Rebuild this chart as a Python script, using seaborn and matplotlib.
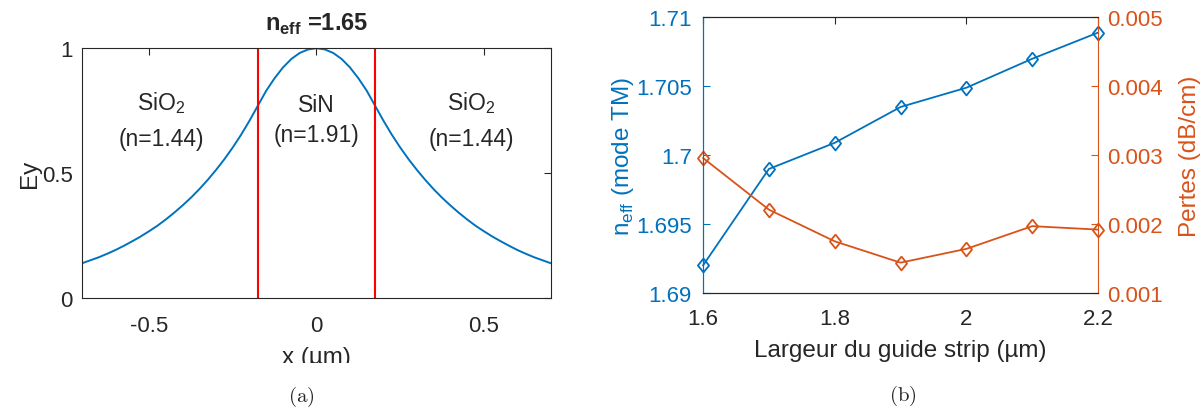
import numpy as np
import pandas as pd
import matplotlib
matplotlib.use('Agg')
import matplotlib.pyplot as plt
import seaborn as sns

# profil du mode (a)
x_um = [-0.7, -0.675, -0.65, -0.625, -0.6, -0.575, -0.55, -0.525, -0.5, -0.475,
        -0.45, -0.425, -0.4, -0.375, -0.35, -0.325, -0.3, -0.275, -0.25, -0.225,
        -0.2, -0.175, -0.15, -0.125, -0.1, -0.075, -0.05, -0.025, 0.0,
        0.025, 0.05, 0.075, 0.1, 0.125, 0.15, 0.175, 0.2, 0.225, 0.25,
        0.275, 0.3, 0.325, 0.35, 0.375, 0.4, 0.425, 0.45, 0.475, 0.5,
        0.525, 0.55, 0.575, 0.6, 0.625, 0.65, 0.675, 0.7]
ey = [0.140, 0.152, 0.164, 0.178, 0.193, 0.210, 0.228, 0.247, 0.268, 0.290,
      0.315, 0.342, 0.371, 0.402, 0.436, 0.473, 0.513, 0.556, 0.603, 0.654,
      0.710, 0.770, 0.830, 0.880, 0.923, 0.957, 0.981, 0.995, 1.000,
      0.995, 0.981, 0.957, 0.923, 0.880, 0.830, 0.770, 0.710, 0.654, 0.603,
      0.556, 0.513, 0.473, 0.436, 0.402, 0.371, 0.342, 0.315, 0.290, 0.268,
      0.247, 0.228, 0.210, 0.193, 0.178, 0.164, 0.152, 0.140]
core_edges = [-0.175, 0.175]

# indice effectif et pertes (b)
largeur = [1.6, 1.7, 1.8, 1.9, 2.0, 2.1, 2.2]
n_eff = [1.6920, 1.6990, 1.7009, 1.7035, 1.7049, 1.7070, 1.7089]
pertes = [0.00296, 0.00221, 0.00175, 0.00144, 0.00164, 0.00197, 0.00192]

blue = '#0072BD'
orange = '#D95319'
dark = '#262626'

sns.set_theme(style="white")
plt.rcParams['font.family'] = ['Liberation Sans', 'DejaVu Sans']
plt.rcParams['mathtext.fontset'] = 'custom'
plt.rcParams['mathtext.rm'] = 'Liberation Sans'
plt.rcParams['mathtext.bf'] = 'Liberation Sans:bold'
plt.rcParams['axes.edgecolor'] = dark
plt.rcParams['xtick.direction'] = 'in'
plt.rcParams['ytick.direction'] = 'in'

fig = plt.figure(figsize=(12.04, 4.10), dpi=100)

# ---- (a)
ax1 = fig.add_axes([0.0681, 0.270, 0.3895, 0.610])
prof = pd.DataFrame({'x': x_um, 'Ey': ey})
sns.lineplot(data=prof, x='x', y='Ey', color=blue, lw=1.4, ax=ax1)
for xe in core_edges:
    ax1.axvline(xe, color='red', lw=1.5)
ax1.set_xlim(-0.7, 0.7)
ax1.set_ylim(0, 1)
ax1.set_xticks([-0.5, 0, 0.5])
ax1.set_xticklabels(['-0.5', '0', '0.5'])
ax1.set_yticks([0, 0.5, 1])
ax1.set_yticklabels(['0', '0.5', '1'])
ax1.tick_params(axis='x', labelsize=16, colors=dark, top=True, length=5, width=0.8, pad=12)
ax1.tick_params(axis='y', labelsize=16, colors=dark, right=True, length=5, width=0.8, pad=6.5)
ax1.set_xlabel('x (µm)', fontsize=17.5, color=dark, labelpad=7)
ax1.set_ylabel('Ey', fontsize=17.5, color=dark, labelpad=1)
ax1.set_title(r'n$_{\mathbf{eff}}$ =1.65', fontsize=17, fontweight='bold', pad=13)
for s in ax1.spines.values():
    s.set_linewidth(0.8)

ax1.text(-0.463, 0.785, r'SiO$_2$', fontsize=16.5, ha='center', va='center')
ax1.text(-0.463, 0.637, '(n=1.44)', fontsize=16.5, ha='center', va='center')
ax1.text(0.0, 0.773, 'SiN', fontsize=16.5, ha='center', va='center')
ax1.text(0.0, 0.653, '(n=1.91)', fontsize=16.5, ha='center', va='center')
ax1.text(0.463, 0.785, r'SiO$_2$', fontsize=16.5, ha='center', va='center')
ax1.text(0.463, 0.637, '(n=1.44)', fontsize=16.5, ha='center', va='center')

# le bas du label x est rogné dans la figure d'origine
fig.patches.append(plt.Rectangle((0.20, 0.080), 0.22, 0.032, transform=fig.transFigure,
                                 facecolor='white', edgecolor='none', zorder=10))

# ---- (b)
diamond = [(0, 1), (0.8, 0), (0, -1), (-0.8, 0), (0, 1)]
ax2 = fig.add_axes([0.5839, 0.283, 0.3281, 0.672])
ax3 = ax2.twinx()
df = pd.DataFrame({'w': largeur, 'n': n_eff, 'p': pertes})
sns.lineplot(data=df, x='w', y='n', color=blue, lw=1.3, marker=diamond, markersize=10,
             markerfacecolor='none', markeredgecolor=blue, markeredgewidth=1.3, ax=ax2, clip_on=False)
sns.lineplot(data=df, x='w', y='p', color=orange, lw=1.3, marker=diamond, markersize=10,
             markerfacecolor='none', markeredgecolor=orange, markeredgewidth=1.3, ax=ax3, clip_on=False)
ax2.set_xlim(1.6, 2.2)
ax2.set_ylim(1.69, 1.71)
ax3.set_ylim(0.001, 0.005)
ax2.set_xticks([1.6, 1.8, 2.0, 2.2])
ax2.set_xticklabels(['1.6', '1.8', '2', '2.2'])
ax2.set_yticks([1.69, 1.695, 1.7, 1.705, 1.71])
ax2.set_yticklabels(['1.69', '1.695', '1.7', '1.705', '1.71'])
ax3.set_yticks([0.001, 0.002, 0.003, 0.004, 0.005])
ax3.set_yticklabels(['0.001', '0.002', '0.003', '0.004', '0.005'])
ax2.tick_params(axis='x', labelsize=16, colors=dark, top=True, length=5, width=0.8, pad=11)
ax2.tick_params(axis='y', labelsize=16, colors=blue, length=5, width=0.8, pad=8)
ax3.tick_params(axis='y', labelsize=16, colors=orange, length=5, width=0.8, pad=6.5)
ax2.set_xlabel('Largeur du guide strip (µm)', fontsize=17.5, color=dark, labelpad=7)
ax2.set_ylabel(r'n$_{\rm eff}$ (mode TM)', fontsize=17.5, color=blue, labelpad=0)
ax3.set_ylabel('Pertes (dB/cm)', fontsize=17.5, color=orange, labelpad=12)
for s in list(ax2.spines.values()) + list(ax3.spines.values()):
    s.set_linewidth(0.8)
ax3.spines['left'].set_color(blue)
ax3.spines['right'].set_color(orange)
ax2.spines['left'].set_color(blue)
ax2.spines['right'].set_visible(False)

fig.text(0.250, 0.032, r'$\mathrm{(a)}$', fontsize=15, math_fontfamily='cm', ha='center', va='center')
fig.text(0.750, 0.034, r'$\mathrm{(b)}$', fontsize=15, math_fontfamily='cm', ha='center', va='center')

fig.savefig('out.png', dpi=100)
